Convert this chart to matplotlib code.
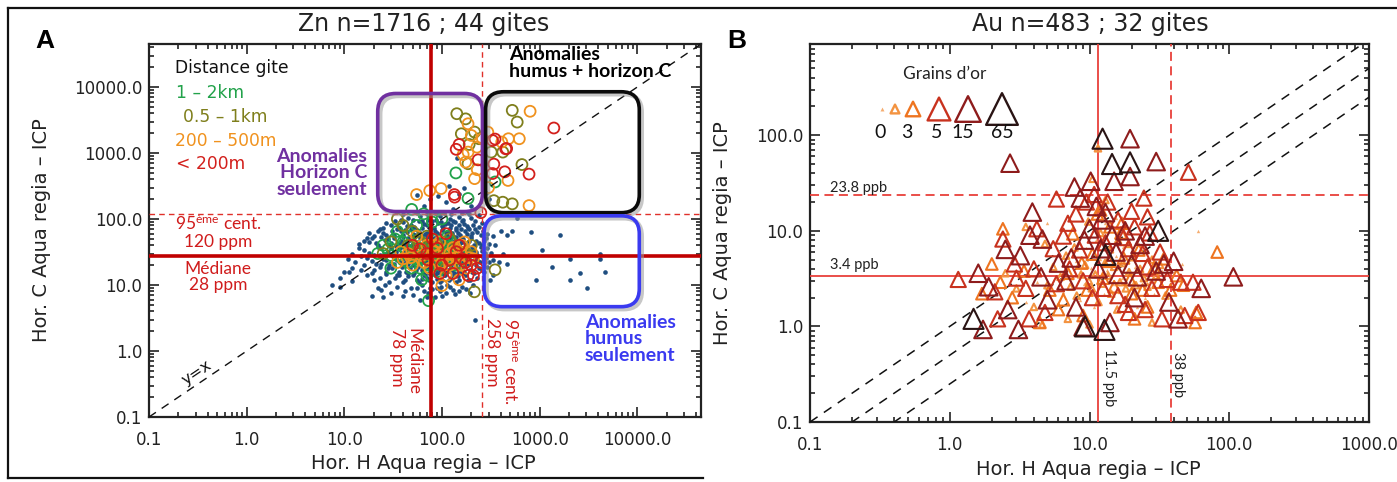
import matplotlib
matplotlib.use("Agg")
import numpy as np
import matplotlib.pyplot as plt
import matplotlib.transforms as mtransforms
from matplotlib.patches import FancyBboxPatch
from matplotlib.lines import Line2D

plt.rcParams['font.family'] = ['DejaVu Sans']
plt.rcParams['mathtext.fontset'] = 'custom'
plt.rcParams['mathtext.rm'] = 'Lato'
plt.rcParams['mathtext.it'] = 'Lato:italic'
plt.rcParams['mathtext.bf'] = 'Lato:bold'

W, H, DPI = 1397, 482, 100

# ---------------- Zn (ppm) ----------------
zn_title = "Zn n=1716 ; 44 gites"
zn_median_h, zn_p95_h = 78, 258
zn_median_c, zn_p95_c = 28, 120
zn_ticks = [0.1, 1.0, 10.0, 100.0, 1000.0, 10000.0]

# all samples (horizon H, horizon C)
zn_dots = [
    (55, 235), (144, 830), (119, 315), (92, 220), (75, 200), (130, 140), (170, 300), (110, 180),
    (150, 240), (300, 200), (280, 250), (65, 160), (95, 130), (200, 160), (240, 115), (180, 130),
    (45, 105), (60, 110), (72, 98), (95, 112), (120, 100), (150, 108), (88, 118), (200, 105), (38, 96), (165, 96),
    (40, 120), (55, 125), (70, 118), (85, 125), (105, 122), (125, 118), (160, 125), (190, 118),
    (30, 80), (40, 90), (52, 75), (65, 85), (80, 92), (100, 78), (115, 88), (140, 72), (170, 85), (35, 70),
    (58, 95), (130, 95), (210, 80), (75, 70), (92, 86), (25, 72), (48, 82), (190, 70),
    (27, 88), (33, 95), (44, 78), (50, 98), (62, 92), (70, 80), (78, 88), (86, 96), (98, 90), (108, 84),
    (125, 80), (135, 90), (150, 82), (160, 92), (180, 78), (220, 92), (240, 76), (260, 88),
    (20, 55), (25, 62), (32, 58), (38, 66), (45, 52), (50, 60), (55, 68), (62, 55), (70, 62), (78, 50),
    (85, 65), (95, 58), (105, 52), (118, 66), (130, 56), (145, 62), (160, 52), (180, 60), (200, 55), (230, 64),
    (28, 50), (42, 68), (66, 48), (88, 54), (110, 62), (250, 58), (17, 52), (22, 66),
    (18, 62), (23, 70), (27, 58), (31, 66), (36, 74), (40, 57), (44, 63), (48, 71), (53, 58), (58, 64),
    (63, 72), (67, 60), (72, 57), (76, 68), (82, 74), (90, 61), (99, 69), (103, 74), (113, 57), (122, 72),
    (128, 62), (138, 68), (152, 58), (158, 70), (172, 66), (185, 72), (205, 62), (220, 70), (265, 66), (290, 60),
    (14, 42), (18, 45), (22, 40), (26, 48), (30, 44), (34, 39), (38, 46), (42, 42), (47, 49), (52, 40),
    (57, 45), (62, 38), (68, 47), (74, 42), (80, 46), (86, 40), (93, 48), (100, 43), (108, 39), (116, 46),
    (125, 41), (135, 48), (148, 40), (160, 45), (175, 42), (190, 47), (215, 40), (240, 44), (270, 46), (300, 42),
    (16, 47), (19, 51), (21, 44), (24, 53), (29, 41), (32, 51), (36, 43), (40, 53), (44, 45), (49, 40),
    (51, 50), (55, 42), (60, 52), (64, 44), (71, 53), (76, 39), (82, 51), (89, 44), (95, 53), (98, 40),
    (104, 49), (112, 42), (120, 52), (128, 45), (140, 53), (153, 43), (165, 50), (182, 39), (198, 51), (225, 47),
    (255, 41), (280, 52),
    (12, 30), (16, 34), (20, 29), (24, 36), (28, 32), (32, 28), (36, 35), (40, 30), (44, 37), (48, 31),
    (53, 34), (58, 29), (63, 36), (68, 31), (73, 35), (78, 30), (84, 37), (90, 32), (96, 29), (102, 35),
    (110, 31), (118, 36), (126, 30), (135, 34), (145, 29), (155, 36), (168, 31), (180, 35), (195, 30), (210, 34),
    (230, 29), (260, 33), (290, 36), (320, 31),
    (14, 36), (18, 31), (22, 38), (26, 30), (30, 37), (34, 32), (38, 38), (42, 33), (46, 39), (50, 35),
    (55, 32), (60, 39), (66, 33), (71, 38), (76, 32), (82, 34), (87, 39), (93, 35), (99, 38), (106, 33),
    (114, 39), (122, 33), (130, 38), (140, 31), (150, 38), (162, 33), (174, 38), (188, 32), (204, 38), (222, 32),
    (250, 38), (275, 31),
    (13, 22), (17, 26), (21, 21), (25, 25), (29, 20), (33, 27), (37, 22), (41, 26), (45, 21), (49, 24),
    (54, 27), (59, 20), (64, 25), (69, 22), (74, 27), (79, 21), (85, 24), (91, 26), (97, 20), (104, 23),
    (111, 27), (119, 21), (127, 25), (136, 22), (146, 26), (157, 20), (170, 24), (185, 27), (200, 21), (220, 25),
    (245, 22), (280, 26), (330, 24),
    (11, 25), (15, 28), (19, 23), (23, 29), (27, 24), (31, 29), (35, 24), (39, 28), (43, 23), (47, 29),
    (51, 22), (56, 26), (61, 29), (66, 23), (71, 26), (76, 29), (82, 22), (88, 29), (94, 24), (100, 27),
    (107, 22), (115, 29), (123, 23), (131, 28), (141, 24), (151, 29), (163, 23), (176, 28), (192, 24), (208, 29),
    (232, 23), (262, 27), (300, 22),
    (15, 17), (19, 15), (23, 19), (27, 16), (31, 18), (35, 14), (39, 19), (43, 16), (47, 18), (52, 15),
    (57, 19), (62, 17), (67, 14), (72, 18), (77, 16), (83, 19), (89, 15), (95, 17), (101, 19), (108, 14),
    (115, 17), (123, 19), (132, 15), (142, 18), (152, 16), (165, 19), (178, 14), (195, 17), (215, 15), (240, 18),
    (270, 16),
    (12, 18), (16, 20), (20, 17), (24, 21), (28, 18), (32, 21), (36, 16), (41, 21), (45, 15), (50, 20),
    (54, 17), (59, 22), (64, 16), (69, 20), (74, 15), (80, 20), (86, 17), (92, 21), (98, 15), (105, 20),
    (112, 16), (120, 21), (128, 17), (137, 21), (147, 15), (158, 20), (170, 16), (185, 21), (202, 16), (225, 20),
    (255, 17), (290, 19),
    (20, 12), (26, 10), (33, 13), (40, 11), (48, 9), (55, 12), (63, 10), (70, 13), (80, 11), (90, 9),
    (100, 12), (112, 10), (125, 13), (140, 11), (160, 9.5), (185, 12), (210, 10), (45, 13.5), (75, 9), (130, 8.5),
    (17, 14), (23, 13), (29, 11), (36, 14), (42, 12), (50, 14), (58, 11), (66, 14), (73, 12), (85, 14),
    (95, 11), (105, 14), (118, 12), (133, 14), (150, 12), (170, 14), (195, 12), (230, 13), (27, 14.5), (62, 12.5),
    (88, 12.5), (145, 13.5),
    (22, 9), (30, 7.5), (50, 7), (65, 8), (85, 6.5), (110, 7.5), (150, 8), (60, 6), (95, 8.2),
    (24, 8.5), (35, 9.5), (42, 8), (56, 9), (72, 7.5), (80, 8.8), (98, 9.2), (120, 9.5), (135, 7.2), (175, 8.7),
    (195, 7.5), (40, 6.8), (70, 6.5), (100, 6.8),
    (9, 13), (7.5, 10), (10, 16), (11.3, 16), (9.1, 9.3), (19, 6.9), (12, 11.5), (25, 6.5), (220, 3.0),
    (590, 103), (460, 58), (520, 66), (810, 64), (1630, 57), (1070, 34), (1330, 18.6), (2030, 25), (2580, 15.3),
    (4170, 30), (4170, 25), (4700, 15.8), (3030, 9.1), (2050, 12), (930, 12), (310, 11.8), (460, 21),
    (350, 40), (400, 65), (330, 55), (380, 22), (330, 14), (420, 30),
]

# samples coloured by distance to the deposit
zn_1_2km = [
    (139, 500), (185, 205), (350, 365), (49, 140), (65, 120),
    (28, 35), (35, 28), (40, 45), (45, 22), (50, 30), (55, 38), (60, 25), (65, 42), (70, 20), (75, 33),
    (80, 27), (85, 48), (90, 22), (95, 35), (100, 30), (105, 45), (110, 25), (120, 38), (130, 28), (140, 20),
    (150, 32), (60, 18), (45, 55), (35, 65), (80, 90), (55, 80), (25, 40), (73, 5.8), (100, 100), (22, 30),
    (70, 14), (90, 16), (40, 24), (30, 18), (115, 55),
    (33, 50), (42, 35), (52, 26), (58, 48), (68, 35), (78, 40), (88, 30), (98, 25), (108, 35), (125, 45),
    (135, 25), (48, 18), (62, 12), (85, 20), (30, 28),
]
zn_05_1km = [
    (142, 3950), (175, 3300), (158, 1960), (216, 2080), (240, 1650), (185, 690), (320, 1035), (420, 1035),
    (660, 670), (340, 190), (420, 180), (525, 170), (525, 4440), (590, 2950), (190, 1350),
    (30, 45), (40, 80), (55, 30), (70, 55), (85, 25), (120, 50), (150, 22), (180, 30), (215, 7.9),
    (350, 17), (35, 100), (90, 40), (110, 18), (50, 65), (65, 28), (140, 35),
    (45, 40), (60, 45), (78, 35), (100, 28), (130, 22), (160, 30), (25, 30), (200, 40),
]
zn_200_500m = [
    (185, 2780), (228, 1230), (185, 1035), (175, 730), (216, 410), (98, 290), (75, 270), (55, 235),
    (295, 2080), (410, 1470), (480, 1650), (620, 1650), (475, 385), (780, 160), (800, 4300), (200, 1850),
    (260, 1650), (230, 560), (165, 950), (300, 300),
    (40, 25), (50, 20), (60, 35), (75, 18), (90, 28), (100, 22), (120, 30), (140, 26), (160, 40), (180, 18),
    (200, 32), (170, 45), (110, 14), (100, 9.8), (35, 22), (45, 30), (130, 37), (150, 12), (210, 25),
    (62, 28), (85, 40), (120, 20), (55, 55),
    (38, 32), (48, 26), (66, 22), (82, 32), (95, 45), (115, 25), (135, 33), (155, 20), (190, 26), (70, 40),
]
zn_lt200m = [
    (150, 1350), (140, 1140), (235, 790), (135, 215), (250, 125), (350, 1630), (460, 1170), (450, 1160),
    (340, 680), (440, 520), (330, 490), (780, 480), (1400, 2400), (134, 235), (330, 1550),
    (60, 35), (100, 20), (130, 15), (160, 25), (200, 20), (150, 40), (80, 50), (50, 40), (110, 60),
    (185, 14), (230, 18), (72, 24),
    (70, 30), (90, 36), (120, 24), (140, 32), (175, 22), (95, 15), (250, 22), (210, 14),
]
zn_classes = ["1 – 2km", "0.5 – 1km", "200 – 500m", "< 200m"]
zn_class_colors = ["#22a24a", "#7f7f1c", "#f0921e", "#d3201c"]

# ---------------- Au (ppb) ----------------
au_title = "Au n=483 ; 32 gites"
au_median_h, au_p95_h = 11.5, 38
au_median_c, au_p95_c = 3.4, 23.8
au_ratio_lines = [1, 2, 4]          # y = x / r
au_xticks = [0.1, 1.0, 10.0, 100.0, 1000.0]
au_yticks = [0.1, 1.0, 10.0, 100.0]

au_g0 = [
    (11, 72), (60, 10), (46, 4.5), (5, 12), (8, 4.8), (9.2, 2.8), (10.2, 4.1), (10.8, 1.6), (11.8, 5.1),
    (12.6, 2.2), (13.3, 3.9), (14, 1.8), (14.8, 2.8), (15.6, 5.5), (16.2, 2.3), (17, 3.2), (18, 1.9),
    (19, 4.9), (20.5, 2.9), (22, 1.6), (23.5, 3.6), (25, 2), (27, 3), (29, 2.2), (33, 3.8), (36, 2.6),
    (7.5, 3.2), (6.5, 2.3), (8.5, 1.9), (9.5, 6.6), (11.2, 8.1), (13, 12), (15.5, 13.5), (17.5, 6.8),
    (21, 4.2), (5.8, 1.6), (4.2, 2.9), (3.5, 1.8),
]
au_g1 = [
    (3.5, 11), (4.8, 7.3), (5.5, 4.2), (6.2, 3.3), (7.3, 2.6), (8.1, 2.1), (8.7, 3.5), (9.3, 4.4), (9.9, 3.0),
    (10.4, 2.5), (11, 3.5), (11.6, 1.8), (12.3, 2.8), (12.9, 4.6), (13.6, 3.4), (14.3, 2.2), (15, 4.2),
    (15.8, 1.5), (16.5, 2.9), (17.3, 4.6), (18.2, 2.5), (19.2, 3.7), (20.3, 5.3), (21.5, 2.7), (23, 4),
    (24.5, 3.2), (26, 2.6), (28, 5), (30, 3.4), (32, 4.4), (35, 2.1), (11.5, 73), (10.5, 35), (13, 21),
    (9.8, 12.5), (7.8, 6.7), (6.8, 5.5), (5, 2.7), (4, 1.6), (3, 2.5), (2.5, 3.6), (14, 6.4), (16, 8),
    (12, 9.5), (19, 7.3), (45, 1.5), (28, 1.1), (10, 1.05), (7, 1.2), (4.6, 1.05),
]
au_g3 = [
    (2.4, 10.5), (82, 6), (57, 1.1), (1.7, 2.2), (2.3, 2.9), (2.8, 2.0), (3.4, 3.8), (4.4, 1.1), (5.2, 2.4),
    (6, 1.5), (7, 3.6), (7.6, 9.3), (8.8, 4.6), (9.6, 2.4), (10.5, 5.7), (11.4, 15), (12.5, 3.2), (13.8, 4.8),
    (15, 2.6), (16.8, 9.5), (17.5, 5.2), (19.5, 3.1), (21, 1.2), (22.5, 6.3), (24, 2.4), (26, 1.6), (29, 4.1),
    (31, 2.9), (34, 5.1), (38, 2.4), (42, 3.4), (47, 2.7), (58, 1.4), (12, 16.5), (17, 12), (14, 11),
    (6.5, 1.9), (9, 1.3), (20, 2.2), (2, 4.5),
]
au_g5 = [
    (51, 41), (24.5, 22), (5.8, 21.5), (1.15, 3.1), (2.1, 2.3), (2.4, 8.2), (2.9, 4.5), (3.5, 2.5), (4, 4),
    (5.5, 6.5), (6.5, 8.8), (7, 12), (8, 15), (9.5, 20), (10.8, 24), (13.5, 20), (16, 13), (17.5, 8.5),
    (19, 6.5), (21, 11), (24, 5.8), (26, 4.2), (28, 2.5), (32, 6), (36, 3.1), (45, 2.9), (55, 2.9), (60, 1.4),
    (48, 1.3), (33, 1.2), (25, 1.5), (19, 1.4), (16, 2.1), (12.5, 2.5), (10.5, 2.0), (9, 3), (7.2, 4),
    (5.8, 2.8), (4.8, 1.4), (3.7, 1.2), (2.2, 1.2), (3, 3.2), (8.5, 6.3), (11, 9), (13, 7.5), (20, 16),
    (26, 14), (18, 1.7), (27, 9.5), (4.2, 10.5),
]
au_g15 = [
    (19.5, 92), (2.7, 51), (30, 53), (19.5, 37), (15, 33), (7.8, 28.7), (10.2, 33), (8.6, 22), (3.9, 15.7),
    (13, 15.5), (12.2, 13), (11.2, 18), (3.75, 9), (4.6, 8.2), (3.2, 5.5), (2.5, 6.4), (107, 3.3), (63, 2.5),
    (1.73, 0.93), (3.1, 0.93), (9, 0.99), (43, 1.2), (1.6, 3.6), (1.9, 2.6), (7.4, 5.2), (9.2, 8), (14.5, 9),
    (20, 4.5), (34, 4.5), (23, 7.2), (6, 4.6), (6.8, 3), (11.5, 4), (16, 3.5), (22, 3.3), (30, 3.8),
    (40, 4.8), (5, 1.9), (8, 1.6), (14, 1.1), (21, 2), (37, 1.8), (2.6, 1.5), (10, 10.5), (18, 10),
    (25, 8.8), (12, 6.5), (4.5, 3.3), (15.5, 6),
]
au_g65 = [
    (12.4, 92), (19.5, 52), (14.5, 50), (13, 5.6), (1.48, 1.2), (12.8, 0.92), (31, 10), (9.3, 1.0),
]
au_groups = [au_g0, au_g1, au_g3, au_g5, au_g15, au_g65]
au_sizes = [6, 22, 70, 120, 160, 210]
au_colors = ["#f5ad70", "#f39340", "#ee7420", "#c8321e", "#8e1c1c", "#2a1414"]
au_legend_labels = ["0", "3", "5", "15", "65"]


def fxy(px, py):
    """pixel position (from top-left) -> figure fraction"""
    return px / W, 1 - py / H


fig = plt.figure(figsize=(W / DPI, H / DPI), dpi=DPI)
fig.patch.set_facecolor("white")

boxA = (149, 44, 701, 417)
boxB = (810, 44, 1369, 422)
axA = fig.add_axes([boxA[0] / W, 1 - boxA[3] / H, (boxA[2] - boxA[0]) / W, (boxA[3] - boxA[1]) / H])
axB = fig.add_axes([boxB[0] / W, 1 - boxB[3] / H, (boxB[2] - boxB[0]) / W, (boxB[3] - boxB[1]) / H])


def style_axes(ax, xlim, ylim, xt, yt):
    ax.set_xscale("log")
    ax.set_yscale("log")
    ax.set_xlim(*xlim)
    ax.set_ylim(*ylim)
    ax.set_xticks(xt)
    ax.set_xticklabels([f"{t:.1f}" for t in xt])
    ax.set_yticks(yt)
    ax.set_yticklabels([f"{t:.1f}" for t in yt])
    ax.tick_params(which="both", direction="in", top=True, right=True, width=1.2, color="#222222")
    ax.tick_params(which="major", length=7, labelsize=12, labelcolor="#222222")
    ax.tick_params(which="minor", length=3.5)
    ax.tick_params(axis="x", which="major", pad=10)
    ax.tick_params(axis="y", which="major", pad=5)
    for sp in ax.spines.values():
        sp.set_linewidth(1.6)
        sp.set_color("#222222")
    ax.set_xlabel("Hor. H Aqua regia – ICP", fontsize=14, color="#222222")
    ax.set_ylabel("Hor. C Aqua regia – ICP", fontsize=14, color="#222222")


# ================= panel A =================
ZLIM = (0.1, 45000)
style_axes(axA, ZLIM, ZLIM, zn_ticks, zn_ticks)
axA.xaxis.set_label_coords(0.497, -0.1)
axA.yaxis.set_label_coords(-0.178, 0.5)

dh, dc = zip(*zn_dots)
axA.scatter(dh, dc, s=11, color="#1f4e80", linewidths=0, zorder=2)
for pts, col in zip([zn_1_2km, zn_05_1km, zn_200_500m, zn_lt200m], zn_class_colors):
    h, c = zip(*pts)
    axA.scatter(h, c, s=62, facecolors="none", edgecolors=col, linewidths=1.3, zorder=3)

axA.plot(ZLIM, ZLIM, ls=(0, (6, 5)), color="#111111", lw=1.0, zorder=3)
axA.axvline(zn_median_h, color="#c00000", lw=2.6, zorder=4)
axA.axhline(zn_median_c, color="#c00000", lw=2.6, zorder=4)
axA.axvline(zn_p95_h, color="#e0302a", lw=1.0, ls=(0, (4, 3)), zorder=4)
axA.axhline(zn_p95_c, color="#e0302a", lw=1.0, ls=(0, (4, 3)), zorder=4)


def frac(v, lim):
    return (np.log10(v) - np.log10(lim[0])) / (np.log10(lim[1]) - np.log10(lim[0]))


def round_box(ax, box_px, xr, yr, lim, color):
    wpx, hpx = box_px[2] - box_px[0], box_px[3] - box_px[1]
    x0, x1 = frac(xr[0], lim), frac(xr[1], lim)
    y0, y1 = frac(yr[0], lim), frac(yr[1], lim)
    style = f"round,pad=0,rounding_size={18 / wpx:.4f}"
    shadow_tr = mtransforms.offset_copy(ax.transAxes, fig=fig, x=2.5, y=-2.5, units="dots")
    ax.add_patch(FancyBboxPatch((x0, y0), x1 - x0, y1 - y0, boxstyle=style, mutation_aspect=wpx / hpx,
                                transform=shadow_tr, fill=False, ec="#9a9a9a", lw=3.2, alpha=0.55, zorder=5))
    ax.add_patch(FancyBboxPatch((x0, y0), x1 - x0, y1 - y0, boxstyle=style, mutation_aspect=wpx / hpx,
                                transform=ax.transAxes, fill=False, ec=color, lw=2.6, zorder=6))


round_box(axA, boxA, (22, 260), (130, 8000), ZLIM, "#7030a0")
round_box(axA, boxA, (280, 10500), (125, 8500), ZLIM, "#0a0a0a")
round_box(axA, boxA, (270, 10500), (4.7, 112), ZLIM, "#3a3af0")

# texts panel A
fig.text(*fxy(45, 41), "A", fontsize=19, fontweight="bold", family="Liberation Sans", ha="center", va="center")
fig.text(*fxy(424, 24), zn_title, fontsize=17, ha="center", va="center", color="#222222")
fig.text(*fxy(175, 68), "Distance gite", fontsize=12.3, ha="left", va="center", color="#111111")
for (px, py), lab, col in zip([(176, 93), (183, 117), (175, 141), (176, 164)], zn_classes, zn_class_colors):
    fig.text(*fxy(px, py), lab, fontsize=12.3, ha="left", va="center", color=col)

fig.text(*fxy(367, 173), "Anomalies\nHorizon C\nseulement", family="Lato", fontweight="bold", fontsize=14,
         color="#7030a0", ha="right", va="center", multialignment="right", linespacing=0.95)
fig.text(*fxy(509, 63), "Anomalies\nhumus + horizon C", family="Lato", fontweight="bold", fontsize=14,
         color="#000000", ha="left", va="center", multialignment="left", linespacing=0.95)
fig.text(*fxy(585, 339), "Anomalies\nhumus\nseulement", family="Lato", fontweight="bold", fontsize=14,
         color="#3a3af0", ha="left", va="center", multialignment="left", linespacing=0.95)

red_txt = "#d01c1c"
fig.text(*fxy(218, 232), "95$^{\\mathrm{ème}}$ cent.\n%d ppm" % zn_p95_c, family="Lato", fontsize=12.5,
         color=red_txt, ha="center", va="center", multialignment="center", linespacing=1.05)
fig.text(*fxy(218, 277), "Médiane\n%d ppm" % zn_median_c, family="Lato", fontsize=12.5,
         color=red_txt, ha="center", va="center", multialignment="center", linespacing=1.05)
fig.text(*fxy(405, 328), "Médiane\n%d ppm" % zn_median_h, family="Lato", fontsize=12.5, rotation=270,
         color=red_txt, ha="center", va="top", multialignment="left", linespacing=1.05)
fig.text(*fxy(502, 318), "95$^{\\mathrm{ème}}$ cent.\n%d ppm" % zn_p95_h, family="Lato", fontsize=12.5, rotation=270,
         color=red_txt, ha="center", va="top", multialignment="left", linespacing=1.05)
angle = np.degrees(np.arctan2(boxA[3] - boxA[1], boxA[2] - boxA[0]))
fig.text(*fxy(197, 373), "y=x", fontsize=11.5, rotation=angle, ha="center", va="center", color="#111111")

# ================= panel B =================
AXL, AYL = (0.1, 1000), (0.1, 900)
style_axes(axB, AXL, AYL, au_xticks, au_yticks)
axB.xaxis.set_label_coords(0.497, -0.1)
axB.yaxis.set_label_coords(-0.14, 0.5)

xx = np.array(AXL)
for r in au_ratio_lines:
    axB.plot(xx, xx / r, ls=(0, (6, 5)), color="#111111", lw=1.1, zorder=3)
line_red = "#e8403a"
axB.axvline(au_median_h, color=line_red, lw=1.3, zorder=4)
axB.axhline(au_median_c, color=line_red, lw=1.3, zorder=4)
axB.axvline(au_p95_h, color=line_red, lw=1.3, ls=(0, (5, 3)), zorder=4)
axB.axhline(au_p95_c, color=line_red, lw=1.3, ls=(0, (5, 3)), zorder=4)

for i, (pts, s, col) in enumerate(zip(au_groups, au_sizes, au_colors)):
    h, c = zip(*pts)
    if i == 0:
        axB.scatter(h, c, s=s, marker="^", color=col, linewidths=0, zorder=5)
    else:
        axB.scatter(h, c, s=s, marker="^", facecolors="none", edgecolors=col, linewidths=1.5, zorder=5 + i)


# legend of gold grain counts
def axfrac(box, px, py):
    return (px - box[0]) / (box[2] - box[0]), (box[3] - py) / (box[3] - box[1])


leg_px = [882, 895, 913, 939, 968, 1002]
leg_sizes = [8, 40, 110, 270, 340, 520]
for i, (px, s, col) in enumerate(zip(leg_px, leg_sizes, au_colors)):
    x, y = axfrac(boxB, px, 109)
    if i == 0:
        axB.scatter([x], [y], s=s, marker="^", color=col, linewidths=0, transform=axB.transAxes, clip_on=False, zorder=8)
    else:
        axB.scatter([x], [y], s=s, marker="^", facecolors="none", edgecolors=col, linewidths=1.7,
                    transform=axB.transAxes, clip_on=False, zorder=8)
for px, lab in zip([880, 907, 937, 963, 1002], au_legend_labels):
    fig.text(*fxy(px, 133), lab, family="Lato", fontsize=14, ha="center", va="center", color="#111111")
fig.text(*fxy(945, 74), "Grains d’or", family="Lato", fontsize=12.5, ha="center", va="center", color="#222222")

fig.text(*fxy(737, 41), "B", fontsize=19, fontweight="bold", family="Liberation Sans", ha="center", va="center")
fig.text(*fxy(1090, 24), au_title, fontsize=17, ha="center", va="center", color="#222222")
fig.text(*fxy(830, 188), "%.1f ppb" % au_p95_c, family="Lato", fontsize=10.5, ha="left", va="center", color="#222222")
fig.text(*fxy(830, 265), "%.1f ppb" % au_median_c, family="Lato", fontsize=10.5, ha="left", va="center", color="#222222")
fig.text(*fxy(1109, 349), "%.1f ppb" % au_median_h, family="Lato", fontsize=10.5, rotation=270,
         ha="center", va="top", color="#222222")
fig.text(*fxy(1178, 352), "%d ppb" % au_p95_h, family="Lato", fontsize=10.5, rotation=270,
         ha="center", va="top", color="#222222")

# panel frames
frame = dict(color="#111111", lw=1.6, transform=fig.transFigure)
fig.add_artist(Line2D([8 / W, 1.0], [1 - 8 / H, 1 - 8 / H], **frame))
fig.add_artist(Line2D([8 / W, 8 / W], [1 - 8 / H, 1 - 478 / H], **frame))
fig.add_artist(Line2D([8 / W, 703 / W], [1 - 478 / H, 1 - 478 / H], **frame))

fig.savefig("out.png", dpi=DPI)
